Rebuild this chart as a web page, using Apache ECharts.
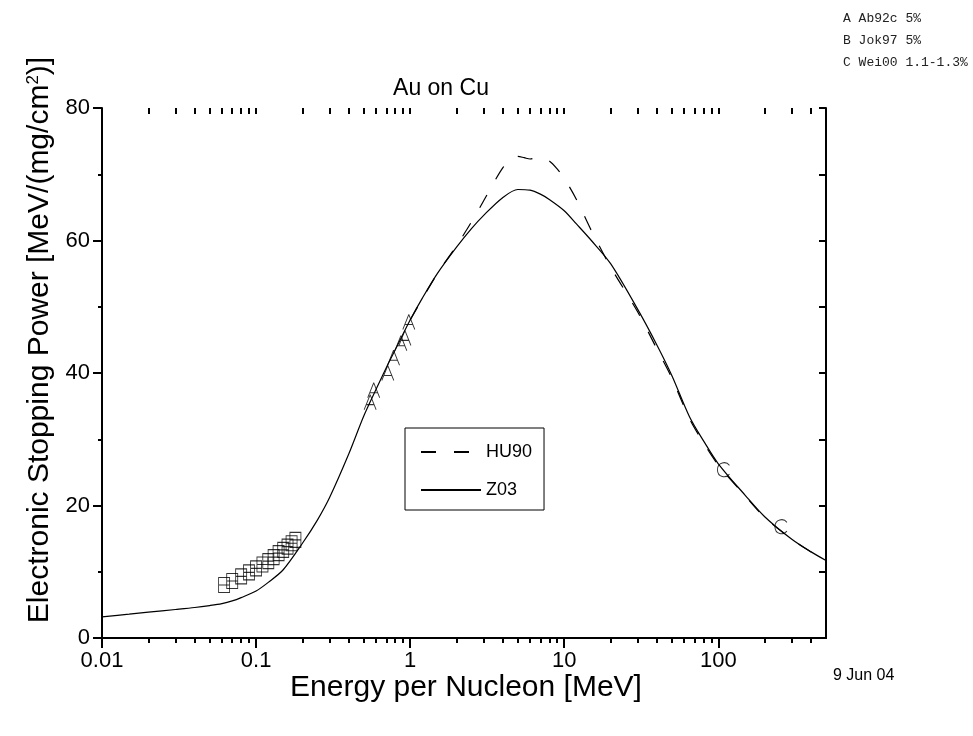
<!DOCTYPE html>
<html><head><meta charset="utf-8">
<script src="https://cdn.jsdelivr.net/npm/echarts@6/dist/echarts.min.js"></script>
<style>html,body{margin:0;padding:0;background:#fff}#c{width:973px;height:736px}</style>
</head><body><div id="c"></div>
<script>
// ---- data ----
const xMajorTicks = [0.01, 0.1, 1, 10, 100];
const xMinorTicks = [0.02,0.03,0.04,0.05,0.06,0.07,0.08,0.09,
  0.2,0.3,0.4,0.5,0.6,0.7,0.8,0.9, 2,3,4,5,6,7,8,9,
  20,30,40,50,60,70,80,90, 200,300,400];
const z03E = [0.01,0.015,0.02,0.03,0.04,0.05,0.06,0.07,0.08,0.1,0.12,0.15,0.2,0.25,0.3,0.4,0.5,0.6,0.7,0.8,1.0,1.2,1.5,2,2.5,3,4,5,6,7,8,10,12,15,20,30,40,50,65,80,100,150,200,300,400,500];
const z03V = [3.2,3.6,3.9,4.3,4.6,4.9,5.2,5.6,6.1,7.1,8.4,10.3,14.3,17.8,21.2,27.8,33.5,37.5,40.8,43.5,48.0,51.3,55.0,59.0,61.8,63.8,66.5,67.7,67.6,67.0,66.2,64.5,62.5,60.0,56.5,49.6,44.2,39.6,33.4,29.8,26.3,21.5,18.3,14.9,13.0,11.7];
const hu90E = [1,1.5,2,2.5,3,3.5,4,4.5,5,5.5,6,6.5,7,8,9,10,12,15,20,30,40,50,65,80,100,150,200,300,400,500];
const hu90V = [48.0,55.0,59.2,62.8,66.0,68.8,71.0,72.4,72.7,72.5,72.3,72.5,72.6,72.0,70.8,69.4,66.2,61.5,56.0,49.2,43.6,39.2,33.1,29.5,26.1,21.4,18.2,14.9,13.0,11.7];
const ab92cE = [0.55,0.58,0.716,0.78,0.87,0.925,0.98];
const ab92cV = [35.6,37.4,40.0,42.3,44.5,45.3,47.7];
const jok97E = [0.062,0.07,0.08,0.09,0.10,0.11,0.12,0.13,0.14,0.15,0.16,0.17,0.18];
const jok97V = [8.0,8.6,9.3,9.9,10.5,11.1,11.6,12.2,12.8,13.3,13.8,14.3,14.8];
const wei00E = [108,255];
const wei00V = [25.4,16.8];
const refLines = ['A Ab92c 5%', 'B Jok97 5%', 'C Wei00 1.1-1.3%'];

const pairs = (xs, ys) => xs.map((x, i) => [x, ys[i]]);
const FONT = 'Liberation Sans, Arial, sans-serif';
const symA = 'path://M6,0 L0,15 M6,0 L12,15 M2,10 L10,10';
const symB = 'path://M0,0 L10,0 L10,16 L0,16 Z M0,8 L10,8';
const symC = 'path://M11,3 C8,-1 0,0 0,7 C0,14 8,15 11,11';

const chart = echarts.init(document.getElementById('c'), null, {renderer: 'canvas'});
const grid = {left: 102, right: 147, top: 108, bottom: 98};
const logAxisBase = {type: 'log', logBase: 10, min: 0.01, max: 500, gridIndex: 0,
  splitLine: {show: false}, minorTick: {show: false}};
chart.setOption({
  animation: false,
  backgroundColor: '#fff',
  title: {text: 'Au on Cu', left: 436, top: 72, textAlign: 'center',
    textStyle: {fontFamily: FONT, fontSize: 23, fontWeight: 'normal', color: '#000'}},
  grid: grid,
  legend: {
    data: ['HU90', 'Z03'], orient: 'vertical', left: 405, top: 428,
    borderColor: '#000', borderWidth: 1, padding: [14, 12, 10, 15],
    itemWidth: 60, itemHeight: 14, itemGap: 18,
    itemStyle: {color: 'rgba(0,0,0,0)', borderWidth: 0, opacity: 0},
    textStyle: {fontFamily: FONT, fontSize: 18, color: '#000', lineHeight: 20}
  },
  xAxis: [
    Object.assign({}, logAxisBase, {position: 'bottom',
      axisLine: {show: true, lineStyle: {color: '#000', width: 2}},
      axisTick: {show: true, inside: false, length: 10, lineStyle: {color: '#000', width: 2}, customValues: xMajorTicks},
      axisLabel: {show: true, customValues: xMajorTicks, margin: 12, fontFamily: FONT, fontSize: 22, color: '#000',
        formatter: v => String(+v.toPrecision(3))}}),
    Object.assign({}, logAxisBase, {position: 'top',
      axisLine: {show: true, lineStyle: {color: '#000', width: 2}},
      axisTick: {show: false},
      axisLabel: {show: false}}),
    Object.assign({}, logAxisBase, {position: 'bottom',
      axisLine: {show: false},
      axisTick: {show: true, inside: false, length: 5, lineStyle: {color: '#000', width: 2}, customValues: xMinorTicks},
      axisLabel: {show: false}}),
    Object.assign({}, logAxisBase, {position: 'top',
      axisLine: {show: false},
      axisTick: {show: true, inside: true, length: 6, lineStyle: {color: '#000', width: 2}, customValues: xMajorTicks.concat(xMinorTicks)},
      axisLabel: {show: false}})
  ],
  yAxis: [
    {type: 'value', min: 0, max: 80, interval: 20, position: 'left',
      splitLine: {show: false},
      axisLine: {show: true, lineStyle: {color: '#000', width: 2}},
      axisTick: {show: true, inside: false, length: 9, lineStyle: {color: '#000', width: 2}},
      minorTick: {show: true, splitNumber: 2, length: 4, lineStyle: {color: '#000', width: 2}},
      axisLabel: {margin: 12, fontFamily: FONT, fontSize: 22, color: '#000'}},
    {type: 'value', min: 0, max: 80, interval: 10, position: 'right',
      splitLine: {show: false},
      axisLine: {show: true, lineStyle: {color: '#000', width: 2}},
      axisTick: {show: true, inside: true, length: 7, lineStyle: {color: '#000', width: 2}},
      axisLabel: {show: false}}
  ],
  series: [
    {name: 'HU90', type: 'line', data: pairs(hu90E, hu90V), symbol: 'none', smooth: 0.3,
      lineStyle: {color: '#000', width: 1.2, type: [15, 18]}, itemStyle: {color: '#000'}, z: 3},
    {name: 'Z03', type: 'line', data: pairs(z03E, z03V), symbol: 'none', smooth: 0.3,
      lineStyle: {color: '#000', width: 1.2, type: 'solid'}, itemStyle: {color: '#000'}, z: 4},
    {name: 'Ab92c', type: 'scatter', data: pairs(ab92cE, ab92cV), symbol: symA, symbolSize: [12, 15],
      itemStyle: {color: 'transparent', borderColor: '#000', borderWidth: 1}, z: 5},
    {name: 'Jok97', type: 'scatter', data: pairs(jok97E, jok97V), symbol: symB, symbolSize: [11, 15],
      itemStyle: {color: 'transparent', borderColor: '#000', borderWidth: 1}, z: 5},
    {name: 'Wei00', type: 'scatter', data: pairs(wei00E, wei00V), symbol: symC, symbolSize: [12, 14],
      itemStyle: {color: 'transparent', borderColor: '#000', borderWidth: 1}, z: 5}
  ],
  graphic: [
    {type: 'text', x: 466, y: 688, style: {text: 'Energy per Nucleon [MeV]', font: '30px ' + FONT, fill: '#000', align: 'center', verticalAlign: 'middle'}},
    {type: 'text', x: 40, y: 340, rotation: Math.PI / 2,
      style: {text: 'Electronic Stopping Power [MeV/(mg/cm{sup|2})]', font: '30px ' + FONT, fill: '#000',
        align: 'center', verticalAlign: 'middle',
        rich: {sup: {fontSize: 17, fontFamily: FONT, verticalAlign: 'top', padding: [0, 0, 12, 0], fill: '#000'}}}},
    {type: 'text', left: 843, top: 12, style: {text: refLines[0], font: '13px Liberation Mono, monospace', fill: '#222'}},
    {type: 'text', left: 843, top: 34, style: {text: refLines[1], font: '13px Liberation Mono, monospace', fill: '#222'}},
    {type: 'text', left: 843, top: 56, style: {text: refLines[2], font: '13px Liberation Mono, monospace', fill: '#222'}},
    {type: 'text', left: 833, top: 668, style: {text: '9 Jun 04', font: '16px ' + FONT, fill: '#000'}}
  ]
});
</script></body></html>
